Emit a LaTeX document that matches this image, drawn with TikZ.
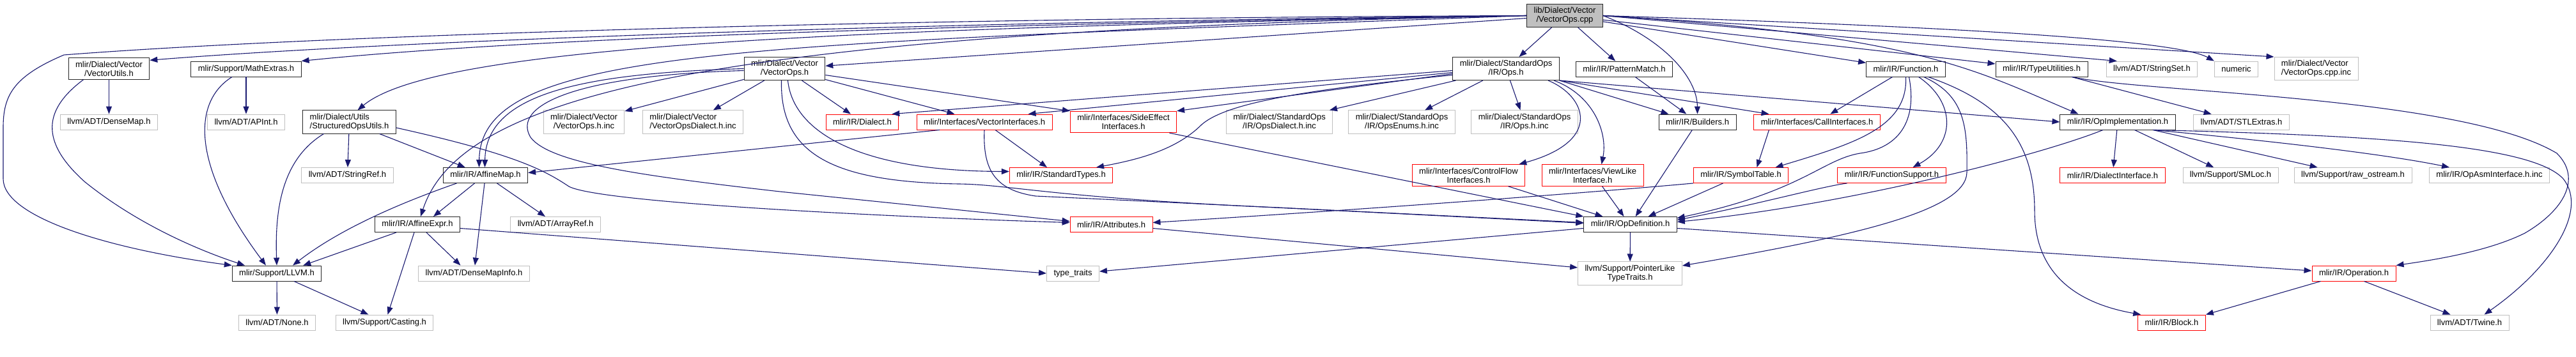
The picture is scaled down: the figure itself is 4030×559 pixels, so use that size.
\documentclass[tikz,border=0pt]{standalone}
\usepackage{fontspec}
\setmainfont{Liberation Sans}
\usetikzlibrary{arrows.meta, positioning}
\definecolor{edgeblue}{RGB}{25,25,112}
\definecolor{extgray}{RGB}{191,191,191}

\begin{document}
\begin{tikzpicture}[x=1pt, y=-1pt,
	every node/.style={font=\fontsize{13}{14}\selectfont, inner xsep=11pt, inner ysep=5pt, minimum height=24pt, line width=0.9pt, fill=white},
	docfile/.style={draw=black!85},
	extfile/.style={draw=extgray},
	truncfile/.style={draw=red},
	rootfile/.style={draw=black!85, fill=extgray},
	dep/.style={draw=edgeblue, line width=1.1pt, -{Triangle[length=12pt, width=9pt]}}]
			\useasboundingbox (0,0) rectangle (4030,559);
			% Files, row by row:
			\node[rootfile, align=center](root) at (2448, 24.5){lib/Dialect/Vector\\/VectorOps.cpp};
			\node[docfile, align=center](vecutils) at (170.5, 107.5){mlir/Dialect/Vector\\/VectorUtils.h};
			\node[docfile](mathextras) at (385, 108){mlir/Support/MathExtras.h};
			\node[docfile, align=center](vecopsh) at (1227.5, 107.5){mlir/Dialect/Vector\\/VectorOps.h};
			\node[docfile, align=center](stdops) at (2356, 107.5){mlir/Dialect/StandardOps\\/IR/Ops.h};
			\node[docfile](patmatch) at (2541, 108){mlir/IR/PatternMatch.h};
			\node[docfile](function) at (2981.5, 108){mlir/IR/Function.h};
			\node[docfile](typeutils) at (3194, 108){mlir/IR/TypeUtilities.h};
			\node[extfile](stringset) at (3366.5, 108){llvm/ADT/StringSet.h};
			\node[extfile](numeric) at (3498.5, 108){numeric};
			\node[extfile, align=left](cppinc) at (3623.5, 107.5){mlir/Dialect/Vector\\/VectorOps.cpp.inc};
			\node[extfile](densemap) at (170.5, 191){llvm/ADT/DenseMap.h};
			\node[extfile](apint) at (385, 191){llvm/ADT/APInt.h};
			\node[docfile, align=left](structops) at (546.5, 191){mlir/Dialect/Utils\\/StructuredOpsUtils.h};
			\node[extfile, align=center](vecopsinc) at (913.5, 191){mlir/Dialect/Vector\\/VectorOps.h.inc};
			\node[extfile, align=left](vecdialinc) at (1084, 191){mlir/Dialect/Vector\\/VectorOpsDialect.h.inc};
			\node[truncfile](dialect) at (1349, 191){mlir/IR/Dialect.h};
			\node[truncfile](veciface) at (1540, 191){mlir/Interfaces/VectorInterfaces.h};
			\node[truncfile, align=center](sideeffect) at (1757.5, 191){mlir/Interfaces/SideEffect\\Interfaces.h};
			\node[extfile, align=center](opsdialinc) at (2001.5, 191){mlir/Dialect/StandardOps\\/IR/OpsDialect.h.inc};
			\node[extfile, align=center](opsenuminc) at (2193, 191){mlir/Dialect/StandardOps\\/IR/OpsEnums.h.inc};
			\node[extfile, align=center](opsinc) at (2385, 191){mlir/Dialect/StandardOps\\/IR/Ops.h.inc};
			\node[docfile](builders) at (2655.5, 191){mlir/IR/Builders.h};
			\node[truncfile](calliface) at (2842.5, 191){mlir/Interfaces/CallInterfaces.h};
			\node[docfile](opimpl) at (3313, 191){mlir/IR/OpImplementation.h};
			\node[extfile](stlextras) at (3506.5, 191){llvm/ADT/STLExtras.h};
			\node[extfile](stringref) at (543.5, 274.5){llvm/ADT/StringRef.h};
			\node[docfile](affinemap) at (759.5, 274.5){mlir/IR/AffineMap.h};
			\node[truncfile](stdtypes) at (1660, 274.5){mlir/IR/StandardTypes.h};
			\node[truncfile, align=center](ctrlflow) at (2297.5, 274.5){mlir/Interfaces/ControlFlow\\Interfaces.h};
			\node[truncfile, align=center](viewlike) at (2491.5, 274.5){mlir/Interfaces/ViewLike\\Interface.h};
			\node[truncfile](symtable) at (2723.5, 274.5){mlir/IR/SymbolTable.h};
			\node[truncfile](funcsupport) at (2959.5, 274.5){mlir/IR/FunctionSupport.h};
			\node[truncfile](dialiface) at (3305, 274.5){mlir/IR/DialectInterface.h};
			\node[extfile](smloc) at (3489.5, 274.5){llvm/Support/SMLoc.h};
			\node[extfile](rawostream) at (3681, 274.5){llvm/Support/raw\_ostream.h};
			\node[extfile](opasminc) at (3894.5, 274.5){mlir/IR/OpAsmInterface.h.inc};
			\node[docfile](affineexpr) at (653, 351.5){mlir/IR/AffineExpr.h};
			\node[extfile](arrayref) at (869, 351.5){llvm/ADT/ArrayRef.h};
			\node[truncfile](attributes) at (1738.5, 351.5){mlir/IR/Attributes.h};
			\node[docfile](opdef) at (2550.5, 351.5){mlir/IR/OpDefinition.h};
			\node[docfile](llvmh) at (433, 428){mlir/Support/LLVM.h};
			\node[extfile](densemapinfo) at (741.5, 428){llvm/ADT/DenseMapInfo.h};
			\node[extfile](typetraits) at (1678.5, 428){type\_traits};
			\node[extfile, align=center](pointerlike) at (2550, 428){llvm/Support/PointerLike\\TypeTraits.h};
			\node[truncfile](operation) at (3682.5, 428){mlir/IR/Operation.h};
			\node[extfile](none) at (433.5, 505){llvm/ADT/None.h};
			\node[extfile](casting) at (601.5, 505){llvm/Support/Casting.h};
			\node[truncfile](block) at (3397.5, 505){mlir/IR/Block.h};
			\node[extfile](twine) at (3863.5, 505){llvm/ADT/Twine.h};
			% Includes of the source file:
			\draw[dep] (root.west) .. controls (1400, 28) and (500, 55) .. (100, 86) .. controls (20, 120) and (5, 150) .. (5, 200) -- (5, 280) .. controls (5, 340) and (170, 390) .. (llvmh.north west);
			\draw[dep] (root.west) .. controls (1400, 35) and (600, 65) .. ([yshift=-4pt]vecutils.north east);
			\draw[dep] (root.west) .. controls (1400, 40) and (800, 62) .. (mathextras.north east);
			\draw[dep] (root.west) .. controls (1300, 45) and (680, 72) .. ([xshift=13pt]structops.north);
			\draw[dep] (root.west) .. controls (1100, 50) and (720, 150) .. ([xshift=5pt]affineexpr.north);
			\draw[dep] (root.west) .. controls (1150, 70) and (752, 75) .. ([xshift=-10pt]affinemap.north);
			\draw[dep] (root) -- (vecopsh);
			\draw[dep] (root) -- (stdops);
			\draw[dep] (root) -- (patmatch);
			\draw[dep] (root.east) .. controls (2600, 60) and (2655, 120) .. (builders.north);
			\draw[dep] (root) -- (function);
			\draw[dep] (root) -- (typeutils);
			\draw[dep] (root.east) -- ([xshift=17pt]stringset.north west);
			\draw[dep] (root.east) .. controls (3000, 40) and (3400, 60) .. (numeric.north west);
			\draw[dep] (root.east) -- (cppinc.north west);
			\draw[dep] (root.east) .. controls (3000, 55) and (3090, 110) .. ([xshift=29pt]opimpl.north west);
			% Left part:
			\draw[dep] (vecutils) -- (densemap);
			\draw[dep] ([xshift=-40pt]vecutils.south) .. controls (70, 170) and (60, 220) .. (133, 285) .. controls (220, 355) and (320, 395) .. ([xshift=-50pt]llvmh.north);
			\draw[dep] (mathextras) -- (apint);
			\draw[dep] ([xshift=-22pt]mathextras.south) .. controls (300, 160) and (300, 260) .. ([xshift=-17pt]llvmh.north);
			\draw[dep] ([xshift=-40pt]structops.south) .. controls (440, 250) and (430, 330) .. (llvmh.north);
			\draw[dep] (structops) -- (stringref);
			\draw[dep] (structops) -- (affinemap);
			\draw[dep] ([yshift=-9pt]structops.east) .. controls (800, 240) and (850, 265) .. (890, 292) .. controls (940, 318) and (1400, 340) .. ([yshift=3pt]attributes.west);
			\draw[dep] ([xshift=-45pt]affinemap.south) .. controls (620, 320) and (530, 360) .. ([xshift=25pt]llvmh.north);
			\draw[dep] ([xshift=-17pt]affinemap.south) -- ([xshift=25pt]affineexpr.north);
			\draw[dep] (affinemap) -- (densemapinfo);
			\draw[dep] ([xshift=18pt]affinemap.south) -- ([xshift=-16pt]arrayref.north);
			\draw[dep] ([xshift=-33pt]affineexpr.south) -- ([xshift=-29pt]llvmh.north east);
			\draw[dep] ([xshift=14pt]affineexpr.south) -- ([xshift=-21pt]densemapinfo.north);
			\draw[dep] ([xshift=-5pt]affineexpr.south) -- ([xshift=5pt]casting.north);
			\draw[dep] ([yshift=-6pt]affineexpr.east) -- (typetraits.west);
			\draw[dep] (llvmh) -- (none);
			\draw[dep] ([xshift=27pt]llvmh.south) -- ([xshift=-25pt]casting.north);
			% Vector dialect header:
			\draw[dep] (vecopsh) -- (vecopsinc);
			\draw[dep] (vecopsh) -- (vecdialinc);
			\draw[dep] (vecopsh) -- (dialect);
			\draw[dep] (vecopsh) -- (veciface);
			\draw[dep] ([yshift=-10pt]vecopsh.east) -- (sideeffect.north west);
			\draw[dep] (vecopsh.west) .. controls (900, 115) and (760, 150) .. ([xshift=-1pt]affinemap.north);
			\draw[dep] ([yshift=-3pt]vecopsh.west) .. controls (900, 118) and (800, 165) .. (830, 215) .. controls (860, 255) and (1000, 275) .. (1220, 300) -- ([yshift=5pt]attributes.west);
			\draw[dep] ([xshift=5pt]vecopsh.south) .. controls (1240, 200) and (1330, 268) .. ([yshift=6pt]stdtypes.west);
			\draw[dep] ([xshift=-5pt]vecopsh.south) .. controls (1220, 240) and (1300, 285) .. (1500, 288) .. controls (1580, 289) and (1650, 310) .. (2000, 325) -- ([yshift=3pt]opdef.west);
			\draw[dep] ([xshift=-70pt]veciface.south) -- ([yshift=4pt]affinemap.east);
			\draw[dep] ([xshift=17pt]veciface.south) -- ([xshift=-22pt]stdtypes.north);
			\draw[dep] (veciface.south) .. controls (1537, 270) and (1560, 298) .. (1620, 307) .. controls (1900, 320) and (2200, 335) .. ([yshift=2pt]opdef.west);
			\draw[dep] ([xshift=72pt]sideeffect.south) -- (opdef.north west);
			% Standard ops header:
			\draw[dep] (stdops) -- (opsdialinc);
			\draw[dep] (stdops) -- (opsenuminc);
			\draw[dep] (stdops) -- (opsinc);
			\draw[dep] ([yshift=-3pt]stdops.west) -- ([xshift=-11pt]dialect.north east);
			\draw[dep] ([yshift=-6pt]stdops.west) -- ([xshift=-38pt]veciface.north east);
			\draw[dep] ([yshift=-8pt]stdops.west) -- (sideeffect.north east);
			\draw[dep] ([yshift=-10pt]stdops.west) .. controls (2050, 140) and (1920, 160) .. (1880, 195) .. controls (1840, 235) and (1780, 250) .. ([xshift=55pt]stdtypes.north);
			\draw[dep] ([xshift=66pt]stdops.south) .. controls (2480, 150) and (2510, 220) .. ([xshift=-10pt]ctrlflow.north east);
			\draw[dep] ([xshift=75pt]stdops.south) .. controls (2495, 150) and (2515, 210) .. ([xshift=14pt]viewlike.north);
			\draw[dep] (stdops.south east) -- ([xshift=-45pt]builders.north);
			\draw[dep] (stdops.south east) -- ([xshift=-75pt]calliface.north);
			\draw[dep] (stdops.south east) -- (opimpl.west);
			\draw[dep] (patmatch) -- (builders);
			\draw[dep] (builders) -- (opdef);
			\draw[dep] ([xshift=62pt]ctrlflow.south) -- ([xshift=-43pt]opdef.north);
			\draw[dep] ([xshift=15pt]viewlike.south) -- ([xshift=-10pt]opdef.north);
			% IR headers:
			\draw[dep] (function) -- (calliface);
			\draw[dep] (function.south) .. controls (2985, 200) and (2900, 225) .. ([xshift=54pt]symtable.north);
			\draw[dep] ([xshift=5pt]function.south) .. controls (3000, 190) and (2970, 232) .. (2910, 240) .. controls (2850, 250) and (2820, 300) .. ([yshift=10pt]opdef.east);
			\draw[dep] ([xshift=20pt]function.south) .. controls (3060, 160) and (3060, 225) .. ([xshift=33pt]funcsupport.north);
			\draw[dep] ([xshift=28pt]function.south) .. controls (3075, 150) and (3078, 200) .. (3077, 270) .. controls (3076, 330) and (2900, 370) .. ([yshift=12pt]pointerlike.east);
			\draw[dep] ([xshift=35pt]function.south) .. controls (3130, 160) and (3183, 220) .. (3183, 330) .. controls (3183, 430) and (3250, 475) .. ([xshift=5pt]block.north west);
			\draw[dep] (typeutils) -- (stlextras);
			\draw[dep] ([xshift=48pt]typeutils.south) .. controls (3350, 145) and (3850, 150) .. (4000, 240) .. controls (4040, 280) and (4010, 330) .. (3950, 365) .. controls (3890, 395) and (3800, 408) .. (operation.north east);
			\draw[dep] (opimpl) -- (dialiface);
			\draw[dep] (opimpl) -- (smloc);
			\draw[dep] ([xshift=55pt]opimpl.south) -- ([xshift=37pt]rawostream.north west);
			\draw[dep] ([xshift=55pt]opimpl.south) .. controls (3600, 225) and (3750, 245) .. ([xshift=32pt]opasminc.north west);
			\draw[dep] ([xshift=57pt]opimpl.south) .. controls (3700, 212) and (3960, 225) .. (4010, 280) .. controls (4050, 330) and (3990, 420) .. ([xshift=23pt]twine.north);
			\draw[dep] ([xshift=-23pt]opimpl.south) .. controls (3200, 240) and (2900, 320) .. ([yshift=4pt]opdef.east);
			\draw[dep] ([xshift=-75pt]calliface.south) -- ([xshift=25pt]symtable.north);
			\draw[dep] (symtable) -- (opdef);
			\draw[dep] (symtable.south west) .. controls (2450, 305) and (2100, 330) .. ([yshift=3pt]attributes.east);
			\draw[dep] ([xshift=-70pt]funcsupport.south) .. controls (2850, 292) and (2750, 320) .. ([yshift=7pt]opdef.east);
			\draw[dep] ([yshift=-6pt]attributes.east) -- ([yshift=9pt]pointerlike.west);
			\draw[dep] (opdef) -- (pointerlike);
			\draw[dep] ([yshift=-6pt]opdef.west) -- ([yshift=3pt]typetraits.east);
			\draw[dep] ([yshift=-6pt]opdef.east) -- ([yshift=4pt]operation.west);
			\draw[dep] ([xshift=-52pt]operation.south) -- (block.north east);
			\draw[dep] ([xshift=16pt]operation.south) -- ([xshift=-30pt]twine.north);
		\end{tikzpicture}
\end{document}
